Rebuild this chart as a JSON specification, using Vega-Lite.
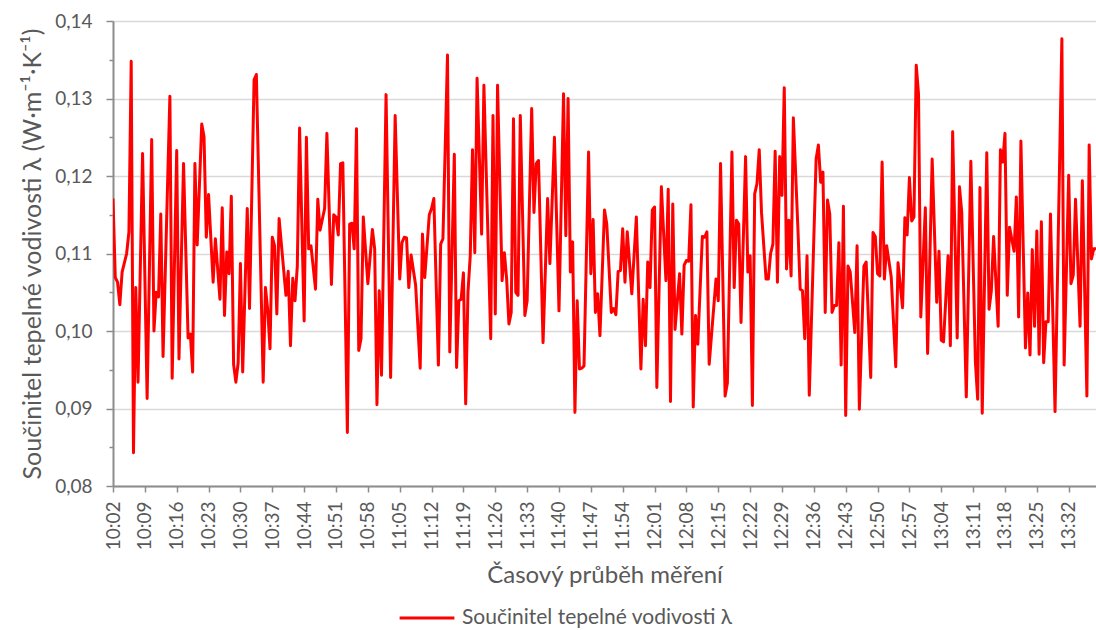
{
  "$schema": "https://vega.github.io/schema/vega-lite/v6.json",
  "width": 983,
  "height": 465,
  "autosize": {"type": "none"},
  "padding": {"left": 113, "top": 21, "right": 0, "bottom": 144},
  "background": "white",
  "config": {"view": {"stroke": null}, "font": "Lato"},
  "data": {
    "format": {"parse": {"t": "date:'%H:%M:%S'"}},
    "values": [
      {"t":"10:02:00","v":0.1171},{"t":"10:02:30","v":0.1069},{"t":"10:03:00","v":0.1063},{"t":"10:03:30","v":0.1034},{"t":"10:04:00","v":0.1076},
      {"t":"10:05:00","v":0.1100},{"t":"10:05:30","v":0.1128},{"t":"10:06:00","v":0.1348},{"t":"10:06:30","v":0.0843},{"t":"10:07:00","v":0.1056},
      {"t":"10:07:30","v":0.0934},{"t":"10:08:30","v":0.1229},{"t":"10:09:30","v":0.0913},{"t":"10:10:30","v":0.1247},{"t":"10:11:00","v":0.1000},
      {"t":"10:11:30","v":0.1050},{"t":"10:12:00","v":0.1044},{"t":"10:12:30","v":0.1151},{"t":"10:13:00","v":0.0967},{"t":"10:14:30","v":0.1303},
      {"t":"10:15:00","v":0.0939},{"t":"10:16:00","v":0.1233},{"t":"10:16:30","v":0.0964},{"t":"10:17:30","v":0.1216},{"t":"10:18:30","v":0.0991},
      {"t":"10:19:00","v":0.0996},{"t":"10:19:30","v":0.0947},{"t":"10:20:00","v":0.1216},{"t":"10:20:30","v":0.1111},{"t":"10:21:30","v":0.1267},
      {"t":"10:22:00","v":0.1251},{"t":"10:22:30","v":0.1121},{"t":"10:23:00","v":0.1176},{"t":"10:24:00","v":0.1063},{"t":"10:24:30","v":0.1119},
      {"t":"10:25:30","v":0.1041},{"t":"10:26:00","v":0.1159},{"t":"10:26:30","v":0.1020},{"t":"10:27:00","v":0.1102},{"t":"10:27:30","v":0.1074},
      {"t":"10:28:00","v":0.1174},{"t":"10:28:30","v":0.0957},{"t":"10:29:00","v":0.0934},{"t":"10:29:30","v":0.0959},{"t":"10:30:00","v":0.1087},
      {"t":"10:30:30","v":0.0947},{"t":"10:31:30","v":0.1158},{"t":"10:32:00","v":0.1029},{"t":"10:33:00","v":0.1324},{"t":"10:33:30","v":0.1331},
      {"t":"10:35:00","v":0.0934},{"t":"10:35:30","v":0.1056},{"t":"10:36:00","v":0.1027},{"t":"10:36:30","v":0.0977},{"t":"10:37:00","v":0.1121},
      {"t":"10:37:30","v":0.1110},{"t":"10:38:00","v":0.1022},{"t":"10:38:30","v":0.1145},{"t":"10:40:00","v":0.1046},{"t":"10:40:30","v":0.1077},
      {"t":"10:41:00","v":0.0981},{"t":"10:41:30","v":0.1068},{"t":"10:42:00","v":0.1039},{"t":"10:42:30","v":0.1084},{"t":"10:43:00","v":0.1262},
      {"t":"10:44:00","v":0.1013},{"t":"10:44:30","v":0.1250},{"t":"10:45:00","v":0.1106},{"t":"10:45:30","v":0.1110},{"t":"10:46:30","v":0.1054},
      {"t":"10:47:00","v":0.1170},{"t":"10:47:30","v":0.1130},{"t":"10:48:30","v":0.1158},{"t":"10:49:00","v":0.1255},{"t":"10:50:00","v":0.1060},
      {"t":"10:50:30","v":0.1150},{"t":"10:51:00","v":0.1147},{"t":"10:51:30","v":0.1124},{"t":"10:52:00","v":0.1216},{"t":"10:52:30","v":0.1217},
      {"t":"10:53:30","v":0.0869},{"t":"10:54:00","v":0.1138},{"t":"10:54:30","v":0.1139},{"t":"10:55:00","v":0.1106},{"t":"10:55:30","v":0.1261},
      {"t":"10:56:00","v":0.0975},{"t":"10:56:30","v":0.0990},{"t":"10:57:00","v":0.1147},{"t":"10:58:00","v":0.1061},{"t":"10:59:00","v":0.1131},
      {"t":"10:59:30","v":0.1106},{"t":"11:00:00","v":0.0905},{"t":"11:00:30","v":0.1052},{"t":"11:01:00","v":0.0943},{"t":"11:02:00","v":0.1305},
      {"t":"11:03:00","v":0.0940},{"t":"11:04:00","v":0.1278},{"t":"11:05:00","v":0.1067},{"t":"11:05:30","v":0.1114},{"t":"11:06:00","v":0.1121},
      {"t":"11:06:30","v":0.1120},{"t":"11:07:00","v":0.1056},{"t":"11:07:30","v":0.1098},{"t":"11:08:30","v":0.1059},{"t":"11:09:30","v":0.0952},
      {"t":"11:10:00","v":0.1125},{"t":"11:10:30","v":0.1069},{"t":"11:11:30","v":0.1150},{"t":"11:12:00","v":0.1158},{"t":"11:12:30","v":0.1171},
      {"t":"11:13:30","v":0.0956},{"t":"11:14:00","v":0.1112},{"t":"11:14:30","v":0.1119},{"t":"11:15:30","v":0.1356},{"t":"11:16:00","v":0.0973},
      {"t":"11:17:00","v":0.1228},{"t":"11:17:30","v":0.0953},{"t":"11:18:00","v":0.1039},{"t":"11:18:30","v":0.1041},{"t":"11:19:00","v":0.1075},
      {"t":"11:19:30","v":0.0906},{"t":"11:20:00","v":0.1050},{"t":"11:20:30","v":0.1097},{"t":"11:21:00","v":0.1234},{"t":"11:21:30","v":0.1101},
      {"t":"11:22:00","v":0.1326},{"t":"11:23:00","v":0.1125},{"t":"11:23:30","v":0.1317},{"t":"11:25:00","v":0.0990},{"t":"11:25:30","v":0.1278},
      {"t":"11:26:00","v":0.1022},{"t":"11:26:30","v":0.1317},{"t":"11:27:30","v":0.1065},{"t":"11:28:00","v":0.1101},{"t":"11:28:30","v":0.1067},
      {"t":"11:29:00","v":0.1009},{"t":"11:29:30","v":0.1024},{"t":"11:30:00","v":0.1274},{"t":"11:30:30","v":0.1050},{"t":"11:31:00","v":0.1046},
      {"t":"11:31:30","v":0.1278},{"t":"11:32:30","v":0.1020},{"t":"11:33:00","v":0.1039},{"t":"11:34:00","v":0.1287},{"t":"11:34:30","v":0.1153},
      {"t":"11:35:00","v":0.1216},{"t":"11:35:30","v":0.1220},{"t":"11:36:30","v":0.0985},{"t":"11:37:30","v":0.1171},{"t":"11:38:00","v":0.1087},
      {"t":"11:39:00","v":0.1250},{"t":"11:40:00","v":0.1026},{"t":"11:41:00","v":0.1306},{"t":"11:41:30","v":0.1123},{"t":"11:42:00","v":0.1300},
      {"t":"11:42:30","v":0.1076},{"t":"11:43:00","v":0.1115},{"t":"11:43:30","v":0.0895},{"t":"11:44:00","v":0.1039},{"t":"11:44:30","v":0.0951},
      {"t":"11:45:00","v":0.0952},{"t":"11:45:30","v":0.0955},{"t":"11:46:30","v":0.1231},{"t":"11:47:00","v":0.1074},{"t":"11:47:30","v":0.1144},
      {"t":"11:48:00","v":0.1024},{"t":"11:48:30","v":0.1048},{"t":"11:49:00","v":0.0994},{"t":"11:50:00","v":0.1156},{"t":"11:50:30","v":0.1138},
      {"t":"11:51:30","v":0.1024},{"t":"11:52:00","v":0.1029},{"t":"11:52:30","v":0.1021},{"t":"11:53:00","v":0.1077},{"t":"11:53:30","v":0.1078},
      {"t":"11:54:00","v":0.1132},{"t":"11:54:30","v":0.1063},{"t":"11:55:00","v":0.1128},{"t":"11:56:00","v":0.1048},{"t":"11:57:00","v":0.1147},
      {"t":"11:58:00","v":0.0951},{"t":"11:58:30","v":0.1041},{"t":"11:59:00","v":0.0981},{"t":"11:59:30","v":0.1089},{"t":"12:00:00","v":0.1056},
      {"t":"12:00:30","v":0.1156},{"t":"12:01:00","v":0.1160},{"t":"12:01:30","v":0.0927},{"t":"12:02:30","v":0.1186},{"t":"12:03:30","v":0.1065},
      {"t":"12:04:00","v":0.1183},{"t":"12:04:30","v":0.0909},{"t":"12:05:00","v":0.1164},{"t":"12:05:30","v":0.1002},{"t":"12:06:30","v":0.1074},
      {"t":"12:07:00","v":0.0996},{"t":"12:07:30","v":0.1085},{"t":"12:08:00","v":0.1091},{"t":"12:08:30","v":0.1090},{"t":"12:09:00","v":0.1163},
      {"t":"12:09:30","v":0.0902},{"t":"12:10:00","v":0.1020},{"t":"12:10:30","v":0.0983},{"t":"12:11:30","v":0.1122},{"t":"12:12:00","v":0.1121},
      {"t":"12:12:30","v":0.1128},{"t":"12:13:00","v":0.0957},{"t":"12:14:30","v":0.1067},{"t":"12:15:00","v":0.1039},{"t":"12:15:30","v":0.1216},
      {"t":"12:16:30","v":0.0916},{"t":"12:17:00","v":0.0933},{"t":"12:18:00","v":0.1231},{"t":"12:18:30","v":0.1056},{"t":"12:19:00","v":0.1143},
      {"t":"12:19:30","v":0.1138},{"t":"12:20:00","v":0.1011},{"t":"12:21:00","v":0.1225},{"t":"12:21:30","v":0.1076},{"t":"12:22:00","v":0.1097},
      {"t":"12:22:30","v":0.0904},{"t":"12:23:00","v":0.1177},{"t":"12:23:30","v":0.1190},{"t":"12:24:00","v":0.1234},{"t":"12:24:30","v":0.1153},
      {"t":"12:25:30","v":0.1067},{"t":"12:26:00","v":0.1067},{"t":"12:26:30","v":0.1100},{"t":"12:27:00","v":0.1112},{"t":"12:27:30","v":0.1232},
      {"t":"12:28:00","v":0.1063},{"t":"12:28:30","v":0.1225},{"t":"12:29:00","v":0.1175},{"t":"12:29:30","v":0.1314},{"t":"12:30:00","v":0.1080},
      {"t":"12:30:30","v":0.1143},{"t":"12:31:00","v":0.1071},{"t":"12:31:30","v":0.1275},{"t":"12:32:30","v":0.1132},{"t":"12:33:00","v":0.1054},
      {"t":"12:33:30","v":0.1052},{"t":"12:34:00","v":0.0990},{"t":"12:34:30","v":0.1097},{"t":"12:35:00","v":0.0917},{"t":"12:36:30","v":0.1222},
      {"t":"12:37:00","v":0.1240},{"t":"12:37:30","v":0.1192},{"t":"12:38:00","v":0.1205},{"t":"12:38:30","v":0.1024},{"t":"12:39:00","v":0.1169},
      {"t":"12:39:30","v":0.1151},{"t":"12:40:00","v":0.1024},{"t":"12:40:30","v":0.1033},{"t":"12:41:00","v":0.1033},{"t":"12:41:30","v":0.1114},
      {"t":"12:42:00","v":0.0956},{"t":"12:42:30","v":0.1161},{"t":"12:43:00","v":0.0891},{"t":"12:43:30","v":0.1084},{"t":"12:44:00","v":0.1076},
      {"t":"12:45:00","v":0.0998},{"t":"12:45:30","v":0.1110},{"t":"12:46:00","v":0.0899},{"t":"12:47:00","v":0.1084},{"t":"12:47:30","v":0.1089},
      {"t":"12:48:30","v":0.0940},{"t":"12:49:00","v":0.1127},{"t":"12:49:30","v":0.1122},{"t":"12:50:00","v":0.1074},{"t":"12:50:30","v":0.1071},
      {"t":"12:51:00","v":0.1218},{"t":"12:51:30","v":0.1067},{"t":"12:52:00","v":0.1110},{"t":"12:53:00","v":0.1070},{"t":"12:54:00","v":0.0954},
      {"t":"12:54:30","v":0.1088},{"t":"12:55:30","v":0.1030},{"t":"12:56:00","v":0.1146},{"t":"12:56:30","v":0.1124},{"t":"12:57:00","v":0.1198},
      {"t":"12:57:30","v":0.1142},{"t":"12:58:00","v":0.1147},{"t":"12:58:30","v":0.1343},{"t":"12:59:00","v":0.1306},{"t":"12:59:30","v":0.1018},
      {"t":"13:00:30","v":0.1159},{"t":"13:01:00","v":0.0971},{"t":"13:02:00","v":0.1222},{"t":"13:03:00","v":0.1037},{"t":"13:03:30","v":0.1103},
      {"t":"13:04:00","v":0.0988},{"t":"13:04:30","v":0.0986},{"t":"13:05:30","v":0.1097},{"t":"13:06:00","v":0.0981},{"t":"13:06:30","v":0.1257},
      {"t":"13:07:30","v":0.0991},{"t":"13:08:00","v":0.1186},{"t":"13:08:30","v":0.1153},{"t":"13:09:30","v":0.0915},{"t":"13:10:30","v":0.1219},
      {"t":"13:11:30","v":0.0960},{"t":"13:12:00","v":0.0912},{"t":"13:12:30","v":0.1185},{"t":"13:13:00","v":0.0894},{"t":"13:14:00","v":0.1230},
      {"t":"13:14:30","v":0.1028},{"t":"13:15:00","v":0.1052},{"t":"13:15:30","v":0.1122},{"t":"13:16:30","v":0.1006},{"t":"13:17:00","v":0.1234},
      {"t":"13:17:30","v":0.1218},{"t":"13:18:00","v":0.1255},{"t":"13:18:30","v":0.1046},{"t":"13:19:00","v":0.1134},{"t":"13:20:00","v":0.1103},
      {"t":"13:20:30","v":0.1173},{"t":"13:21:00","v":0.1018},{"t":"13:21:30","v":0.1245},{"t":"13:22:30","v":0.0978},{"t":"13:23:00","v":0.1049},
      {"t":"13:23:30","v":0.0969},{"t":"13:24:00","v":0.1105},{"t":"13:24:30","v":0.1006},{"t":"13:25:00","v":0.1129},{"t":"13:25:30","v":0.0970},
      {"t":"13:26:00","v":0.1141},{"t":"13:26:30","v":0.0959},{"t":"13:27:00","v":0.1012},{"t":"13:27:30","v":0.1012},{"t":"13:28:00","v":0.1151},
      {"t":"13:29:00","v":0.0896},{"t":"13:30:30","v":0.1377},{"t":"13:31:00","v":0.0956},{"t":"13:32:00","v":0.1201},{"t":"13:32:30","v":0.1061},
      {"t":"13:33:00","v":0.1072},{"t":"13:33:30","v":0.1170},{"t":"13:34:30","v":0.1006},{"t":"13:35:00","v":0.1194},{"t":"13:36:00","v":0.0916},
      {"t":"13:36:30","v":0.1240},{"t":"13:37:00","v":0.1093},{"t":"13:37:30","v":0.1106},{"t":"13:38:00","v":0.1106}
    ]
  },
  "mark": {"type": "line", "strokeWidth": 3, "strokeJoin": "round", "clip": true},
  "encoding": {
    "x": {
      "field": "t",
      "type": "temporal",
      "scale": {
        "domain": [
          {"year": 1900, "month": 1, "date": 1, "hours": 10, "minutes": 2},
          {"year": 1900, "month": 1, "date": 1, "hours": 13, "minutes": 38}
        ],
        "nice": false
      },
      "axis": {
        "title": "Časový průběh měření",
        "values": [
          {"year":1900,"month":1,"date":1,"hours":10,"minutes":2},
          {"year":1900,"month":1,"date":1,"hours":10,"minutes":9},
          {"year":1900,"month":1,"date":1,"hours":10,"minutes":16},
          {"year":1900,"month":1,"date":1,"hours":10,"minutes":23},
          {"year":1900,"month":1,"date":1,"hours":10,"minutes":30},
          {"year":1900,"month":1,"date":1,"hours":10,"minutes":37},
          {"year":1900,"month":1,"date":1,"hours":10,"minutes":44},
          {"year":1900,"month":1,"date":1,"hours":10,"minutes":51},
          {"year":1900,"month":1,"date":1,"hours":10,"minutes":58},
          {"year":1900,"month":1,"date":1,"hours":11,"minutes":5},
          {"year":1900,"month":1,"date":1,"hours":11,"minutes":12},
          {"year":1900,"month":1,"date":1,"hours":11,"minutes":19},
          {"year":1900,"month":1,"date":1,"hours":11,"minutes":26},
          {"year":1900,"month":1,"date":1,"hours":11,"minutes":33},
          {"year":1900,"month":1,"date":1,"hours":11,"minutes":40},
          {"year":1900,"month":1,"date":1,"hours":11,"minutes":47},
          {"year":1900,"month":1,"date":1,"hours":11,"minutes":54},
          {"year":1900,"month":1,"date":1,"hours":12,"minutes":1},
          {"year":1900,"month":1,"date":1,"hours":12,"minutes":8},
          {"year":1900,"month":1,"date":1,"hours":12,"minutes":15},
          {"year":1900,"month":1,"date":1,"hours":12,"minutes":22},
          {"year":1900,"month":1,"date":1,"hours":12,"minutes":29},
          {"year":1900,"month":1,"date":1,"hours":12,"minutes":36},
          {"year":1900,"month":1,"date":1,"hours":12,"minutes":43},
          {"year":1900,"month":1,"date":1,"hours":12,"minutes":50},
          {"year":1900,"month":1,"date":1,"hours":12,"minutes":57},
          {"year":1900,"month":1,"date":1,"hours":13,"minutes":4},
          {"year":1900,"month":1,"date":1,"hours":13,"minutes":11},
          {"year":1900,"month":1,"date":1,"hours":13,"minutes":18},
          {"year":1900,"month":1,"date":1,"hours":13,"minutes":25},
          {"year":1900,"month":1,"date":1,"hours":13,"minutes":32}
        ],
        "format": "%H:%M",
        "labelAngle": -90,
        "labelFontSize": 19,
        "labelColor": "#595959",
        "labelPadding": 9,
        "labelFlush": false,
        "labelOverlap": false,
        "labelBound": false,
        "grid": false,
        "tickSize": 6,
        "tickWidth": 1.5,
        "tickColor": "#8c8c8c",
        "domainColor": "#8c8c8c",
        "domainWidth": 2,
        "titleFontSize": 24,
        "titleFontWeight": "normal",
        "titleColor": "#595959",
        "titlePadding": 14
      }
    },
    "y": {
      "field": "v",
      "type": "quantitative",
      "scale": {"domain": [0.08, 0.14], "nice": false, "zero": false},
      "axis": {
        "title": "Součinitel tepelné vodivosti λ (W·m⁻¹·K⁻¹)",
        "values": [0.08, 0.085, 0.09, 0.095, 0.1, 0.105, 0.11, 0.115, 0.12, 0.125, 0.13, 0.135, 0.14],
        "labelExpr": "round(datum.value*1000) % 10 == 0 ? replace(format(datum.value, '.2f'), '.', ',') : ''",
        "labelFontSize": 19,
        "labelColor": "#595959",
        "labelPadding": 14,
        "labelFlush": false,
        "labelOverlap": false,
        "tickSize": {"condition": {"test": "round(datum.value*1000) % 10 == 0", "value": 7}, "value": 4},
        "tickWidth": 1.5,
        "tickColor": "#8c8c8c",
        "domainColor": "#8c8c8c",
        "domainWidth": 2,
        "gridColor": "#d9d9d9",
        "gridWidth": 1.5,
        "gridOpacity": {"condition": {"test": "round(datum.value*1000) % 10 == 0", "value": 1}, "value": 0},
        "titleFontSize": 25,
        "titleFontWeight": "normal",
        "titleColor": "#595959",
        "titlePadding": 9
      }
    },
    "color": {
      "datum": "Součinitel tepelné vodivosti λ",
      "type": "nominal",
      "scale": {"range": ["#ff0000"]},
      "legend": {
        "title": null,
        "orient": "none",
        "legendX": 285,
        "legendY": 568,
        "padding": 0,
        "symbolType": "stroke",
        "symbolSize": 3000,
        "symbolStrokeWidth": 3,
        "symbolStrokeColor": "#ff0000",
        "labelFontSize": 21,
        "labelLimit": 500,
        "labelColor": "#595959",
        "labelOffset": 6
      }
    }
  }
}
